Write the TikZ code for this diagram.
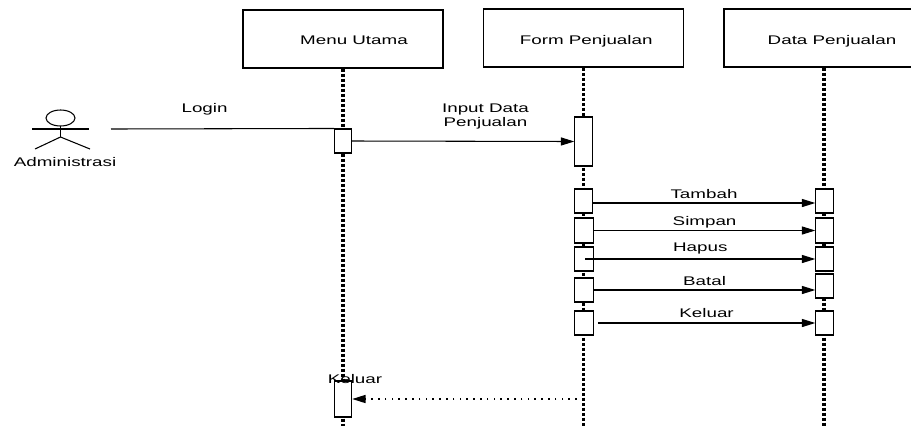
\documentclass[tikz,border=0pt]{standalone}
\usepackage{fontspec}
\setmainfont{Liberation Sans}
\usepackage{graphicx}
\usetikzlibrary{arrows.meta}
\usetikzlibrary{shapes}

\newcommand{\wtxt}[1]{\scalebox{1.5}[1]{#1}}

\begin{document}
\begin{tikzpicture}[x=0.75pt,y=0.75pt,yscale=-1,xscale=1,line width=0.8pt,
  lbl/.style={font=\fontsize{9.4}{10.5}\selectfont, inner sep=0pt},
  objbox/.style={draw, fill=white, minimum width=150pt, minimum height=43.5pt, inner sep=0pt},
  actbox/.style={draw, fill=white, minimum width=13pt, inner sep=0pt},
  lifeline/.style={line width=2.4pt, dash pattern=on 2.25pt off 1.5pt},
  msgline/.style={-{Triangle[length=10pt,width=6pt]}},
  retline/.style={line width=1.1pt, dash pattern=on 1.1pt off 4pt, -{Triangle[length=10pt,width=6pt]}},
  msgtext/.style={lbl, anchor=base}
  ]
\useasboundingbox (0,0) rectangle (911,426);
%Objects
\node [objbox, label={[lbl,xshift=8.25pt,yshift=-1pt]center:\wtxt{Menu Utama}}] (menu) at (343,39) {};
\node [objbox, label={[lbl,xshift=2pt,yshift=-2.5pt]center:\wtxt{Form Penjualan}}] (form) at (583.5,38) {};
\node [objbox, label={[lbl,xshift=6pt,yshift=-2.5pt]center:\wtxt{Data Penjualan}}] (data) at (824,38) {};
\coordinate (menuend) at (343,426);
\coordinate (formend) at (583.5,426);
\coordinate (dataend) at (824,426);
%Lifelines
\draw [lifeline] (menu.south) -- (menuend);
\draw [lifeline] (form.south) -- (formend);
\draw [lifeline] (data.south) -- (dataend);
%Actor
\coordinate (adm) at (60.5,118);
\draw (adm) ellipse (14.5 and 8);
\draw (32,129) -- (89,129);
\draw (60.5,126) -- (60.5,137);
\draw (35,149) -- (60.5,137) -- (90,149);
\node [msgtext] (admtext) at (65,166.5) {\wtxt{Administrasi}};
%Activations
\node [actbox, minimum height=18pt] (mu1) at (343,141) {};
\node [actbox, minimum height=27pt] (mu2) at (343,399) {};
\node [actbox, minimum height=36.75pt] (fp0) at (583.5,141.5) {};
\node [actbox, minimum height=18pt] (fp1) at (583.5,201) {};
\node [actbox, minimum height=18.75pt, minimum width=14pt] (fp2) at (584,230.5) {};
\node [actbox, minimum height=18pt, minimum width=14pt] (fp3) at (584,259) {};
\node [actbox, minimum height=18pt, minimum width=14pt] (fp4) at (584,290) {};
\node [actbox, minimum height=18pt, minimum width=14pt] (fp5) at (584,323) {};
\node [actbox, minimum height=18pt] (dp1) at (824.5,201) {};
\node [actbox, minimum height=18.75pt] (dp2) at (824.5,230.5) {};
\node [actbox, minimum height=18pt] (dp3) at (824.5,259) {};
\node [actbox, minimum height=18pt] (dp4) at (824.5,286) {};
\node [actbox, minimum height=18pt] (dp5) at (824.5,323) {};
%Messages
\coordinate (loginstart) at (111,129);
\draw (loginstart) -- (mu1.north west) node [msgtext, pos=0.42, yshift=12pt] {\wtxt{Login}};
\draw [msgline] (mu1.east) -- (fp0.west) node [lbl, pos=0.6, above=7.5pt] {\wtxt{\begin{tabular}{@{}c@{}}Input Data\\Penjualan\end{tabular}}};
\draw [msgline] ([yshift=1.5pt]fp1.east) -- ([yshift=1.5pt]dp1.west) node [msgtext, midway, yshift=3.4pt] {\wtxt{Tambah}};
\draw [msgline] (fp2.east) -- (dp2.west) node [msgtext, midway, yshift=3.4pt] {\wtxt{Simpan}};
\draw [msgline] ([xshift=1pt]fp3.center) -- (dp3.west) node [msgtext, midway, yshift=5.5pt] {\wtxt{Hapus}};
\draw [msgline] (fp4.east) -- (fp4.east -| dp4.west) node [msgtext, midway, yshift=3.4pt] {\wtxt{Batal}};
\draw [msgline] ([xshift=3pt]fp5.east) -- (dp5.west) node [msgtext, midway, yshift=4pt] {\wtxt{Keluar}};
\draw [retline] (mu2 -| form.south) -- (mu2.east);
\node [msgtext] (keluar2) at ([xshift=9pt,yshift=2.6pt]mu2.north) {\wtxt{Keluar}};
\end{tikzpicture}
\end{document}
